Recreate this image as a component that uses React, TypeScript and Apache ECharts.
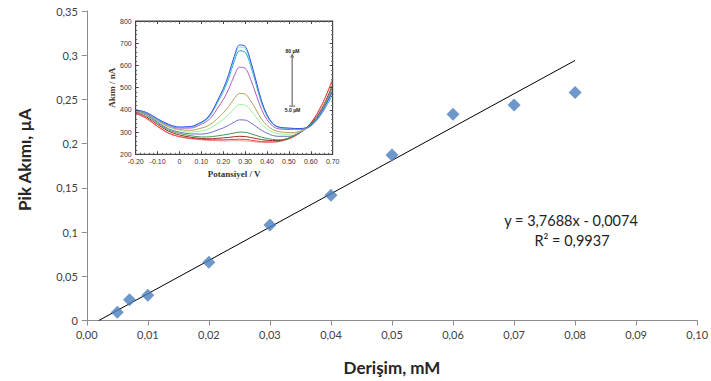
import React, { useEffect, useRef } from "react";
import * as echarts from "echarts";

// Main calibration data
const concentrations = [0.005, 0.007, 0.01, 0.02, 0.03, 0.04, 0.05, 0.06, 0.07, 0.08];
const peakCurrents = [0.0093, 0.0235, 0.0285, 0.0658, 0.108, 0.1416, 0.1872, 0.2333, 0.2438, 0.2577];
const slope = 3.7688;
const intercept = -0.0074;
const trendX = [-intercept / slope, 0.08];
const xTicks = ["0,00", "0,01", "0,02", "0,03", "0,04", "0,05", "0,06", "0,07", "0,08", "0,09", "0,10"];
const yTicks = ["0", "0,05", "0,1", "0,15", "0,2", "0,25", "0,3", "0,35"];

// Inset voltammograms
const potentials = [-0.2, -0.15, -0.1, -0.05, 0, 0.05, 0.1, 0.125, 0.15, 0.175, 0.2, 0.225, 0.25, 0.275, 0.3, 0.325, 0.35, 0.375, 0.4, 0.425, 0.45, 0.5, 0.55, 0.6, 0.65, 0.7];
const curveBlue = [400, 388, 360, 335, 323, 325, 345, 362, 395, 445, 495, 560, 640, 692, 686, 620, 530, 440, 378, 340, 324, 318, 316, 330, 392, 485];
const curveLightCyan = [400, 387, 358, 334, 321, 323, 344, 360, 393, 441, 490, 554, 631, 682, 676, 613, 525, 436, 376, 339, 323, 316, 315, 329, 388, 478];
const curveTeal = [399, 386, 357, 333, 320, 322, 342, 357, 389, 436, 482, 543, 618, 666, 660, 600, 515, 430, 372, 337, 322, 314, 314, 328, 384, 470];
const curvePurple = [398, 383, 355, 330, 318, 318, 335, 348, 372, 409, 446, 494, 553, 592, 587, 538, 470, 402, 356, 328, 315, 312, 312, 327, 385, 485];
const curveOlive = [398, 382, 352, 325, 312, 308, 318, 326, 341, 363, 386, 415, 451, 474, 471, 441, 400, 358, 330, 312, 303, 298, 303, 330, 385, 490];
const curveLightGreen = [396, 380, 350, 322, 308, 300, 305, 311, 323, 340, 357, 379, 406, 424, 421, 399, 368, 336, 314, 300, 293, 290, 302, 330, 385, 492];
const curveSlate = [395, 378, 345, 315, 300, 292, 291, 294, 300, 310, 319, 331, 345, 355, 354, 342, 325, 308, 295, 285, 281, 281, 298, 332, 390, 495];
const curveGreen = [395, 375, 340, 310, 294, 284, 278, 278, 280, 283, 287, 291, 296, 300, 299, 293, 285, 277, 271, 267, 265, 273, 298, 335, 400, 505];
const curveDarkRed = [390, 368, 334, 304, 287, 277, 271, 270, 270, 272, 274, 276, 279, 281, 280, 276, 271, 266, 263, 262, 262, 273, 299, 338, 405, 515];
const curveRed = [385, 362, 326, 296, 280, 272, 268, 266, 265, 265, 265, 266, 267, 268, 267, 264, 260, 257, 256, 256, 258, 270, 296, 340, 420, 540];
const curvePink = [383, 360, 324, 294, 278, 270, 265, 263, 262, 261, 260, 260, 261, 261, 260, 258, 255, 254, 253, 254, 256, 270, 297, 342, 425, 530];

const insetCurves = [
  { name: "c11", data: curvePink, color: "#f4a0a0" },
  { name: "c10", data: curveRed, color: "#ee3b3b" },
  { name: "c9", data: curveDarkRed, color: "#a02c2c" },
  { name: "c8", data: curveGreen, color: "#3c9a4e" },
  { name: "c7", data: curveSlate, color: "#7070c4" },
  { name: "c6", data: curveLightGreen, color: "#98f098" },
  { name: "c5", data: curveOlive, color: "#b0a060" },
  { name: "c4", data: curvePurple, color: "#b05cc0" },
  { name: "c3", data: curveTeal, color: "#1fb0b0" },
  { name: "c2", data: curveLightCyan, color: "#90d8ea" },
  { name: "c1", data: curveBlue, color: "#3a52e8" },
];

const arrowX = 0.515;
const arrowTop = 645;
const arrowBottom = 417;

export default function App() {
  const ref = useRef<HTMLDivElement>(null);
  useEffect(() => {
    if (!ref.current) return;
    const chart = echarts.init(ref.current, null, { renderer: "svg" });
    const mainFont = "Lato";
    const insetSeries: any[] = insetCurves.map((c) => ({
      name: c.name,
      type: "line",
      xAxisIndex: 1,
      yAxisIndex: 1,
      smooth: 0.35,
      showSymbol: false,
      silent: true,
      lineStyle: { color: c.color, width: 1 },
      data: potentials.map((p, i) => [p, c.data[i]]),
      z: 5,
    }));
    const option: any = {
      animation: false,
      backgroundColor: "#ffffff",
      grid: [
        { left: 86.8, right: 12.3, top: 11, bottom: 60.5, show: false },
        { left: 135.7, top: 21, width: 197, height: 133.3, show: true, backgroundColor: "#ffffff", borderColor: "#444", borderWidth: 1, z: 3 },
      ],
      xAxis: [
        {
          type: "value", gridIndex: 0, min: 0, max: 0.1, interval: 0.01,
          axisLine: { show: true, lineStyle: { color: "#8c8c8c", width: 1 } },
          axisTick: { show: true, inside: false, length: 5, lineStyle: { color: "#8c8c8c" } },
          splitLine: { show: false },
          axisLabel: {
            color: "#404040", fontFamily: mainFont, fontSize: 11, margin: 8,
            formatter: (v: number) => xTicks[Math.round(v * 100)] ?? "",
          },
          name: "Derişim, mM", nameLocation: "middle", nameGap: 38,
          nameTextStyle: { fontFamily: mainFont, fontWeight: "bold", fontSize: 17, color: "#262626" },
        },
        {
          type: "value", gridIndex: 1, min: -0.2, max: 0.7, interval: 0.1,
          axisLine: { show: true, onZero: false, lineStyle: { color: "#444" } },
          axisTick: { show: true, inside: true, length: 3, lineStyle: { color: "#444" } },
          minorTick: { show: true, splitNumber: 5, length: 1.5, lineStyle: { color: "#666" } },
          splitLine: { show: false },
          axisLabel: {
            color: "#333", fontFamily: "Liberation Sans Narrow, Liberation Sans", fontSize: 7, margin: 4,
            formatter: (v: number) => { const r = Math.round(v * 100) / 100; return r === 0 ? "0" : r.toFixed(2); },
          },
          name: "Potansiyel / V", nameLocation: "middle", nameGap: 15,
          nameTextStyle: { fontFamily: "Liberation Serif", fontWeight: "bold", fontSize: 9, color: "#333" },
          z: 6,
        },
        {
          type: "value", gridIndex: 1, position: "top", min: -0.2, max: 0.7, interval: 0.1,
          axisLine: { show: true, onZero: false, lineStyle: { color: "#444" } },
          axisTick: { show: true, inside: true, length: 3, lineStyle: { color: "#444" } },
          minorTick: { show: true, splitNumber: 5, length: 1.5, lineStyle: { color: "#666" } },
          splitLine: { show: false }, axisLabel: { show: false }, z: 6,
        },
      ],
      yAxis: [
        {
          type: "value", gridIndex: 0, min: 0, max: 0.35, interval: 0.05,
          axisLine: { show: true, lineStyle: { color: "#8c8c8c", width: 1 } },
          axisTick: { show: true, inside: false, length: 5, lineStyle: { color: "#8c8c8c" } },
          splitLine: { show: false },
          axisLabel: {
            color: "#404040", fontFamily: mainFont, fontSize: 11, margin: 9,
            formatter: (v: number) => yTicks[Math.round(v * 20)] ?? "",
          },
          name: "Pik Akımı, µA", nameLocation: "middle", nameGap: 54, nameRotate: 90,
          nameTextStyle: { fontFamily: mainFont, fontWeight: "bold", fontSize: 17, color: "#262626", padding: [0, 0, 0, 12] },
        },
        {
          type: "value", gridIndex: 1, min: 200, max: 800, interval: 100,
          axisLine: { show: true, onZero: false, lineStyle: { color: "#444" } },
          axisTick: { show: true, inside: true, length: 3, lineStyle: { color: "#444" } },
          minorTick: { show: true, splitNumber: 5, length: 1.5, lineStyle: { color: "#666" } },
          splitLine: { show: false },
          axisLabel: { color: "#333", fontFamily: "Liberation Sans Narrow, Liberation Sans", fontSize: 7, margin: 4 },
          name: "Akım / nA", nameLocation: "middle", nameGap: 18, nameRotate: 90,
          nameTextStyle: { fontFamily: "Liberation Serif", fontWeight: "bold", fontSize: 9, color: "#4a3320" },
          z: 6,
        },
        {
          type: "value", gridIndex: 1, position: "right", min: 200, max: 800, interval: 100,
          axisLine: { show: true, onZero: false, lineStyle: { color: "#444" } },
          axisTick: { show: true, inside: true, length: 3, lineStyle: { color: "#444" } },
          minorTick: { show: true, splitNumber: 5, length: 1.5, lineStyle: { color: "#666" } },
          splitLine: { show: false }, axisLabel: { show: false }, z: 6,
        },
      ],
      series: [
        {
          name: "Trend", type: "line", xAxisIndex: 0, yAxisIndex: 0, showSymbol: false, silent: true,
          lineStyle: { color: "#000", width: 1 },
          data: trendX.map((x) => [x, slope * x + intercept]), z: 2,
        },
        {
          name: "Pik Akımı", type: "scatter", xAxisIndex: 0, yAxisIndex: 0,
          symbol: "diamond", symbolSize: [13, 13],
          itemStyle: { color: "#4a7ebb" },
          data: concentrations.map((x, i) => [x, peakCurrents[i]]), z: 3,
        },
        ...insetSeries,
        {
          name: "arrow", type: "line", xAxisIndex: 1, yAxisIndex: 1, silent: true,
          showSymbol: false,
          lineStyle: { color: "#888", width: 1.5 },
          data: [[arrowX, arrowBottom], [arrowX, arrowTop]],
          markPoint: {
            symbol: "rect", symbolSize: [6, 1], itemStyle: { color: "#555" },
            label: { show: false },
            data: [{ coord: [arrowX, arrowBottom] }, { coord: [arrowX, arrowTop], symbol: "triangle", symbolSize: [4, 4] }],
          },
          z: 6,
        },
      ],
      graphic: [
        { type: "text", x: 292.5, y: 51, style: { text: "80 µM", fontFamily: "Liberation Sans", fontWeight: "bold", fontSize: 5, fill: "#222", align: "center", verticalAlign: "middle" }, z: 10 },
        { type: "text", x: 292.5, y: 109.5, style: { text: "5.0 µM", fontFamily: "Liberation Sans", fontWeight: "bold", fontSize: 5, fill: "#222", align: "center", verticalAlign: "middle" }, z: 10 },
        { type: "text", x: 571, y: 220, style: { text: "y = 3,7688x - 0,0074", fontFamily: mainFont, fontSize: 14.5, fill: "#222", align: "center", verticalAlign: "middle" }, z: 10 },
        { type: "text", x: 572, y: 240, style: { text: "R² = 0,9937", fontFamily: mainFont, fontSize: 14.5, fill: "#222", align: "center", verticalAlign: "middle" }, z: 10 },
      ],
    };
    chart.setOption(option);
    return () => chart.dispose();
  }, []);
  return <div ref={ref} style={{ position: "fixed", left: 0, top: 0, width: 711, height: 381 }} />;
}
